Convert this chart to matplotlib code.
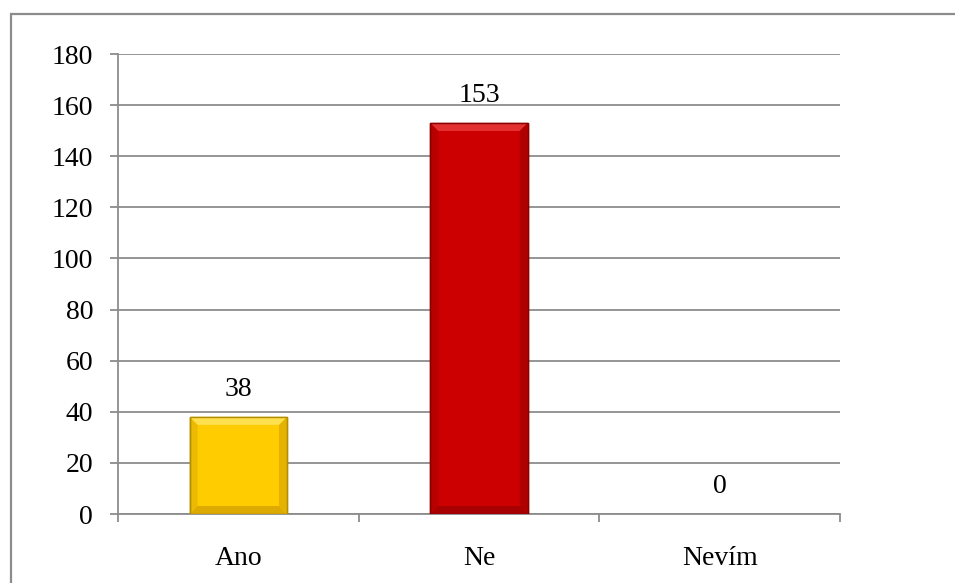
import matplotlib
matplotlib.use("Agg")
import matplotlib.pyplot as plt
from matplotlib.patches import Rectangle, Polygon
import numpy as np

categories = ["Ano", "Ne", "Nevím"]
values = [38, 153, 0]
colors = ["#FFCC00", "#CC0000", "#CC0000"]
edge_colors = ["#B38F00", "#8A0000", "#8A0000"]
light_colors = ["#FFE45C", "#E83A3A", "#E83A3A"]
dark_colors = ["#D6A500", "#A00000", "#A00000"]
yticks = list(range(0, 181, 20))

plt.rcParams['font.family'] = ['Liberation Serif', 'DejaVu Serif']
FS = 20

W, H = 955, 583
fig = plt.figure(figsize=(W / 100, H / 100), dpi=100)
ax = fig.add_axes([118 / W, (H - 514) / H, (840 - 118) / W, (514 - 54) / H])

x = np.arange(len(categories))
bw = 0.405
lws = [1.0 if v > 0 else 0.0 for v in values]
bars = ax.bar(x, values, width=bw, color=colors, edgecolor=edge_colors, linewidth=lws, zorder=3)

ax.set_xlim(-0.5, len(categories) - 0.5)
ax.set_ylim(0, 180)
ax.set_yticks(yticks)
ax.set_yticklabels([str(t) for t in yticks], fontsize=FS)
ax.yaxis.grid(True, color="#8c8c8c", linewidth=1.3, zorder=0)
ax.set_axisbelow(True)

ax.set_xticks(x)
ax.set_xticklabels(categories, fontsize=FS)
ax.tick_params(axis="x", which="major", length=0, pad=23)
ax.set_xticks(np.arange(-0.5, len(categories), 1.0), minor=True)
ax.tick_params(axis="x", which="minor", length=6, width=1.3, color="#8c8c8c", direction="out")
ax.tick_params(axis="y", length=6, width=1.3, color="#8c8c8c", direction="out", pad=12)

for s in ["top", "right"]:
    ax.spines[s].set_visible(False)
for s in ["left", "bottom"]:
    ax.spines[s].set_color("#8c8c8c")
    ax.spines[s].set_linewidth(1.3)

# bevel effect drawn from each bar's own geometry
fig.canvas.draw()
inv = ax.transData.inverted()
bev_px = 8
for b, lc, dc in zip(bars, light_colors, dark_colors):
    if b.get_height() <= 0:
        continue
    x0, y0 = b.get_x(), b.get_y()
    x1, y1 = x0 + b.get_width(), y0 + b.get_height()
    p0 = ax.transData.transform((x0, y0))
    p1 = ax.transData.transform((x1, y1))
    ix0, iy0 = inv.transform((p0[0] + bev_px, p0[1] + bev_px))
    ix1, iy1 = inv.transform((p1[0] - bev_px, p1[1] - bev_px))
    ax.add_patch(Polygon([(x0, y1), (x1, y1), (ix1, iy1), (ix0, iy1)], closed=True,
                         facecolor=lc, edgecolor="none", zorder=4, alpha=0.85))
    ax.add_patch(Polygon([(x0, y0), (x1, y0), (ix1, iy0), (ix0, iy0)], closed=True,
                         facecolor=dc, edgecolor="none", zorder=4, alpha=0.85))
    ax.add_patch(Polygon([(x0, y0), (x0, y1), (ix0, iy1), (ix0, iy0)], closed=True,
                         facecolor=dc, edgecolor="none", zorder=4, alpha=0.45))
    ax.add_patch(Polygon([(x1, y0), (x1, y1), (ix1, iy1), (ix1, iy0)], closed=True,
                         facecolor=dc, edgecolor="none", zorder=4, alpha=0.65))
    ax.add_patch(Rectangle((x0, y0), x1 - x0, y1 - y0, facecolor="none",
                           edgecolor=b.get_edgecolor(), linewidth=1.0, zorder=5))

for xi, v in zip(x, values):
    ax.annotate(str(v), (xi, v), xytext=(0, 15), textcoords="offset points",
                ha="center", va="baseline", fontsize=FS, zorder=6)

# outer chart-area border (top and left visible)
fig.add_artist(Rectangle((11 / W, -0.05), 1.2, (H - 14) / H + 0.05,
                         transform=fig.transFigure, facecolor="none",
                         edgecolor="#8c8c8c", linewidth=1.6, clip_on=False))

fig.savefig("out.png", dpi=100)
